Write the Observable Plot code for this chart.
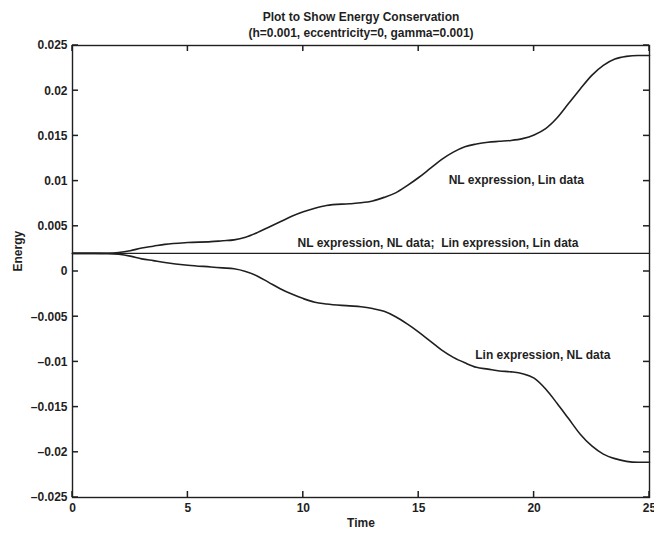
<!DOCTYPE html>
<html>
<head>
<meta charset="utf-8">
<script src="https://cdn.jsdelivr.net/npm/d3@7"></script>
<script src="https://cdn.jsdelivr.net/npm/@observablehq/plot@0.6"></script>
<style>
  html, body { margin: 0; padding: 0; background: #fff; }
  #chart svg { display: block; }
</style>
</head>
<body>
<div id="chart"></div>
<script>
// Energy drift over time for the three expression/data combinations
const time = [0, 1, 1.5, 2, 2.5, 3, 3.5, 4, 5, 6, 6.5, 7, 7.5, 8, 8.5, 9, 9.5, 10, 10.5, 11,
  12, 12.5, 13, 13.5, 14, 14.5, 15, 15.5, 16, 16.5, 17, 17.5, 18, 18.5, 19, 19.5, 20,
  20.5, 21, 21.5, 22, 22.5, 23, 23.5, 24, 24.5, 25];

const nlExprLinData = [0.002, 0.002, 0.00202, 0.0021, 0.0023, 0.0026, 0.0028, 0.0030, 0.0032,
  0.0033, 0.0034, 0.0035, 0.0038, 0.0043, 0.0049, 0.0055, 0.0061, 0.0066, 0.0070, 0.0073,
  0.0075, 0.0076, 0.0078, 0.0082, 0.0087, 0.0095, 0.0104, 0.0114, 0.0124, 0.0132, 0.0138,
  0.0141, 0.0143, 0.0144, 0.0145, 0.0147, 0.0151, 0.0158, 0.0170, 0.0186, 0.0202, 0.0217,
  0.0228, 0.0235, 0.0238, 0.0239, 0.0239];

const linExprNlData = [0.002, 0.002, 0.00198, 0.0019, 0.0017, 0.0014, 0.0012, 0.0010, 0.0007,
  0.0005, 0.0004, 0.0003, 0.0000, -0.0005, -0.0012, -0.0019, -0.0025, -0.0030, -0.0034, -0.0036,
  -0.0038, -0.0039, -0.0041, -0.0044, -0.0050, -0.0058, -0.0067, -0.0077, -0.0087, -0.0095,
  -0.0101, -0.0106, -0.0108, -0.0110, -0.0111, -0.0113, -0.0118, -0.0130, -0.0146, -0.0163,
  -0.0180, -0.0193, -0.0202, -0.0207, -0.0210, -0.0211, -0.0211];

// Consistent pairs conserve energy: constant level
const consistentLevel = 0.002;
const flatTime = [0, 25];

const xTicks = [0, 5, 10, 15, 20, 25];
const yTicks = [-0.025, -0.02, -0.015, -0.01, -0.005, 0, 0.005, 0.01, 0.015, 0.02, 0.025];

const curveLabels = [
  {t: 16.3, e: 0.0101, text: "NL expression, Lin data"},
  {t: 9.75, e: 0.0031, text: "NL expression, NL data;  Lin expression, Lin data"},
  {t: 17.45, e: -0.0093, text: "Lin expression, NL data"}
];

const upper = time.map((t, i) => ({t, e: nlExprLinData[i]}));
const lower = time.map((t, i) => ({t, e: linExprNlData[i]}));
const flat = flatTime.map(t => ({t, e: consistentLevel}));

const fmt = d => String(d).replace("-", "\u2013");
const ink = "#1f1f1f";

// layout
const W = 654, H = 535;
const mL = 72, mR = 5, mT = 45, mB = 38;
const tick = 6;

const chart = Plot.plot({
  width: W,
  height: H,
  marginLeft: mL,
  marginRight: mR,
  marginTop: mT,
  marginBottom: mB,
  style: {fontFamily: "'Liberation Sans', Arial, Helvetica, sans-serif", fontSize: "12px", fontWeight: "bold", color: ink, background: "#fff"},
  x: {domain: [0, 25], label: null},
  y: {domain: [-0.025, 0.025], label: null},
  marks: [
    Plot.frame({stroke: ink, strokeWidth: 1.4}),
    // tick labels
    Plot.axisX({anchor: "bottom", ticks: xTicks, tickSize: 0, tickPadding: 6, tickFormat: fmt, fontSize: 12, fontWeight: "bold", label: null}),
    Plot.axisY({anchor: "left", ticks: yTicks, tickSize: 0, tickPadding: 5, tickFormat: fmt, fontSize: 12, fontWeight: "bold", label: null}),
    // series
    Plot.line(flat, {x: "t", y: "e", stroke: ink, strokeWidth: 1.4}),
    Plot.line(upper, {x: "t", y: "e", stroke: ink, strokeWidth: 1.6, curve: "monotone-x"}),
    Plot.line(lower, {x: "t", y: "e", stroke: ink, strokeWidth: 1.6, curve: "monotone-x"}),
    Plot.text(curveLabels, {x: "t", y: "e", text: "text", textAnchor: "start", fill: ink, fontSize: 12, fontWeight: "bold"}),
    // titles and axis names
    Plot.text(["Plot to Show Energy Conservation"], {frameAnchor: "top", dy: -33, fill: ink, fontSize: 12, fontWeight: "bold"}),
    Plot.text(["(h=0.001, eccentricity=0, gamma=0.001)"], {frameAnchor: "top", dy: -17, fill: ink, fontSize: 12, fontWeight: "bold"}),
    Plot.text(["Time"], {frameAnchor: "bottom", dy: 29, fill: ink, fontSize: 12, fontWeight: "bold"}),
    Plot.text(["Energy"], {frameAnchor: "left", dx: -54, rotate: -90, fill: ink, fontSize: 12, fontWeight: "bold"})
  ]
});

// inward tick marks on all four sides, placed through the chart's own scales
const sx = chart.scale("x"), sy = chart.scale("y");
const g = d3.select(chart).append("g")
  .attr("stroke", ink)
  .attr("stroke-width", 1.5)
  .attr("fill", "none");
const x0 = mL, x1 = W - mR, y0 = mT, y1 = H - mB;
for (const t of xTicks) {
  const px = sx.apply(t);
  g.append("path").attr("d", `M${px},${y1}V${y1 - tick}`);
  g.append("path").attr("d", `M${px},${y0}V${y0 + tick}`);
}
for (const v of yTicks) {
  const py = sy.apply(v);
  g.append("path").attr("d", `M${x0},${py}H${x0 + tick}`);
  g.append("path").attr("d", `M${x1},${py}H${x1 - tick}`);
}

document.getElementById("chart").append(chart);
</script>
</body>
</html>
